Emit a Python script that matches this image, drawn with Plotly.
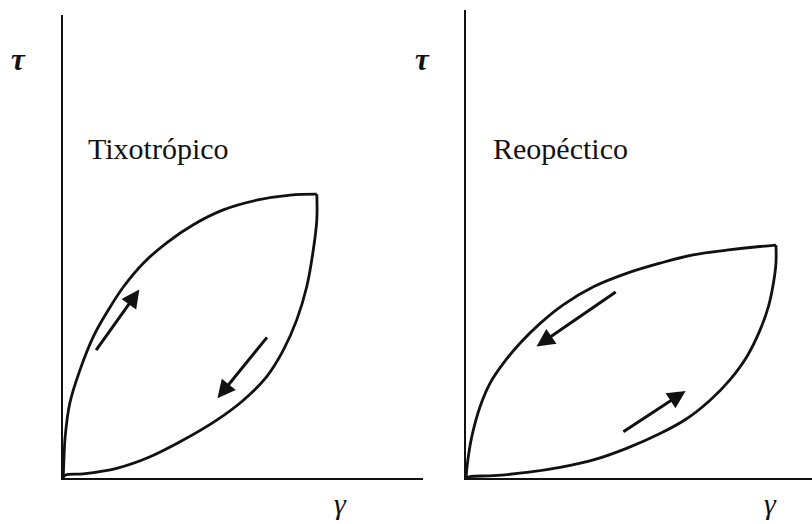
import plotly.graph_objects as go

# Thixotropic loop (shear rate gamma, shear stress tau), arbitrary units
tixo_up_gamma = [0.0, 0.01, 0.06, 0.19, 0.47, 0.84, 1.26, 1.68, 2.23, 2.88, 3.62, 4.45, 5.38, 6.31, 7.05]
tixo_up_tau = [0.0, 0.10, 0.89, 1.62, 2.33, 3.05, 3.63, 4.13, 4.64, 5.08, 5.47, 5.79, 6.00, 6.11, 6.13]
tixo_down_gamma = [7.05, 7.05, 6.94, 6.77, 6.49, 6.12, 5.66, 5.01, 4.27, 3.34, 2.42, 1.49, 0.56, 0.06, 0.0]
tixo_down_tau = [6.13, 5.57, 4.86, 4.13, 3.41, 2.76, 2.19, 1.68, 1.25, 0.82, 0.46, 0.21, 0.09, 0.06, 0.0]

# Rheopectic loop
reo_up_gamma = [0.0, 0.04, 0.16, 0.39, 0.67, 1.04, 1.50, 2.06, 2.70, 3.54, 4.46, 5.39, 6.31, 7.24, 8.17, 8.61]
reo_up_tau = [0.0, 0.32, 0.89, 1.54, 2.05, 2.48, 2.91, 3.34, 3.74, 4.13, 4.42, 4.64, 4.82, 4.92, 5.00, 5.03]
reo_down_gamma = [8.61, 8.61, 8.54, 8.40, 8.17, 7.80, 7.33, 6.78, 6.13, 5.39, 4.46, 3.54, 2.61, 1.69, 0.76, 0.11, 0.0]
reo_down_tau = [5.03, 4.64, 4.21, 3.70, 3.20, 2.62, 2.12, 1.68, 1.28, 0.96, 0.64, 0.39, 0.23, 0.12, 0.05, 0.03, 0.0]

# Direction arrows: (tail gamma, tail tau, head gamma, head tau)
tixo_arrows = [(0.89, 2.73, 2.12, 4.07), (5.70, 3.07, 4.29, 1.72)]
reo_arrows = [(4.20, 4.04, 1.96, 2.84), (4.33, 0.98, 6.10, 1.88)]

panel_titles = ["Tixotrópico", "Reopéctico"]
ink = "#111111"

fig = go.Figure()

for gx, gy, xa, ya in [
    (tixo_up_gamma, tixo_up_tau, "x", "y"),
    (tixo_down_gamma, tixo_down_tau, "x", "y"),
    (reo_up_gamma, reo_up_tau, "x2", "y2"),
    (reo_down_gamma, reo_down_tau, "x2", "y2"),
]:
    fig.add_trace(go.Scatter(
        x=gx, y=gy, xaxis=xa, yaxis=ya, mode="lines",
        line=dict(color=ink, width=2.8, shape="spline", smoothing=1.0),
        showlegend=False, hoverinfo="skip",
    ))

annotations = []
for arrows, xa, ya in [(tixo_arrows, "x", "y"), (reo_arrows, "x2", "y2")]:
    for tx, ty, hx, hy in arrows:
        annotations.append(dict(
            x=hx, y=hy, ax=tx, ay=ty, xref=xa, yref=ya, axref=xa, ayref=ya,
            text="", showarrow=True, arrowhead=2, arrowsize=1.2, arrowwidth=3,
            arrowcolor=ink, standoff=0,
        ))

serif = "Liberation Serif"

# Axis symbols
for xp in (18, 422):
    annotations.append(dict(text="<b><i>τ</i></b>", x=xp / 812, y=(524 - 60) / 524,
                            xref="paper", yref="paper", showarrow=False,
                            xanchor="center", yanchor="middle",
                            font=dict(family=serif, size=31, color=ink)))
for xp in (340, 770):
    annotations.append(dict(text="<i>γ</i>", x=xp / 812, y=(524 - 503) / 524,
                            xref="paper", yref="paper", showarrow=False,
                            xanchor="center", yanchor="middle",
                            font=dict(family=serif, size=30, color=ink)))

# Panel titles
for xp, title in zip((86, 491), panel_titles):
    annotations.append(dict(text=title, x=xp / 812, y=(524 - 148) / 524,
                            xref="paper", yref="paper", showarrow=False,
                            xanchor="left", yanchor="middle",
                            font=dict(family=serif, size=30, color=ink)))

axis_common = dict(showgrid=False, zeroline=False, showticklabels=False, ticks="",
                   showline=True, linecolor=ink, linewidth=2, fixedrange=True)

fig.update_layout(
    width=812, height=524,
    margin=dict(l=0, r=0, t=0, b=0),
    paper_bgcolor="white", plot_bgcolor="white",
    xaxis=dict(domain=[63 / 812, 423 / 812], range=[0, 10], anchor="y", **axis_common),
    yaxis=dict(domain=[(524 - 478) / 524, (524 - 15) / 524], range=[0, 10.0], anchor="x", **axis_common),
    xaxis2=dict(domain=[466 / 812, 1.0], range=[0, 346 / 36], anchor="y2", **axis_common),
    yaxis2=dict(domain=[(524 - 478) / 524, (524 - 10) / 524], range=[0, 468 / 46.3], anchor="x2", **axis_common),
    annotations=annotations,
)

fig.write_html("out.html")
